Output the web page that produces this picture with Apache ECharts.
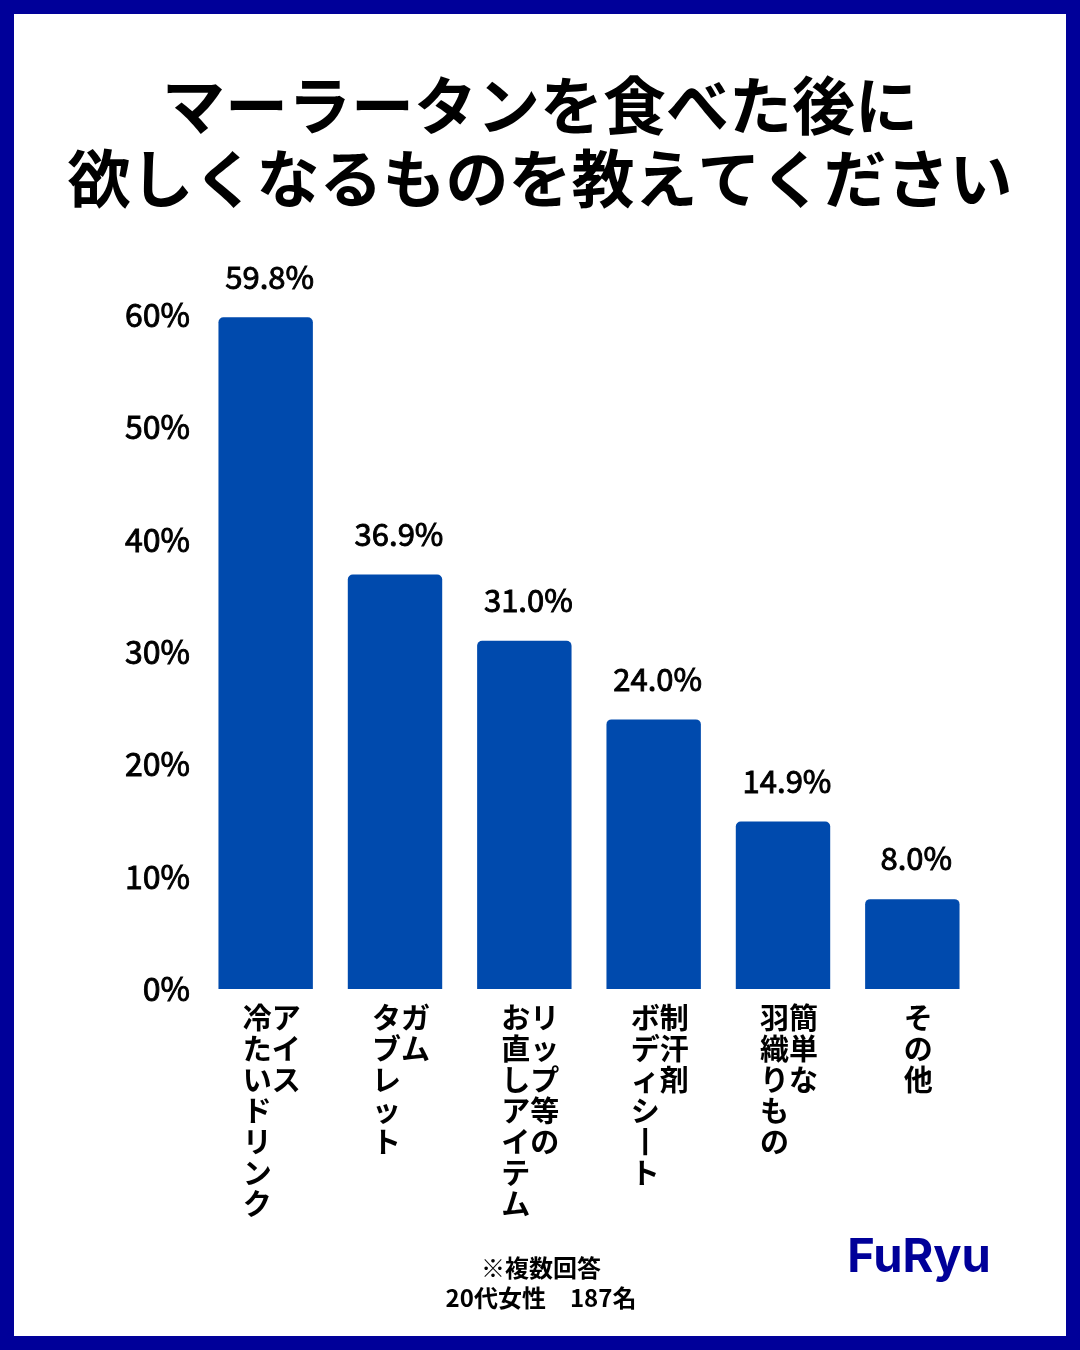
<!DOCTYPE html>
<html>
<head>
<meta charset="utf-8">
<script src="https://cdn.jsdelivr.net/npm/echarts@6/dist/echarts.min.js"></script>
<style>
  html, body { margin: 0; padding: 0; background: #fff; }
  #container { width: 1080px; height: 1350px; }
</style>
</head>
<body>
<div id="container"></div>
<script>
    // 縦書きラベル：右の列から順に
    var categories = [
        ["アイス", "冷たいドリンク"],
        ["ガム", "タブレット"],
        ["リップ等の", "お直しアイテム"],
        ["制汗剤", "ボディシート"],
        ["簡単な", "羽織りもの"],
        ["その他"]
    ];
    var values = [59.8, 36.9, 31.0, 24.0, 14.9, 8.0];
    var yTicks = [0, 10, 20, 30, 40, 50, 60];
    var titleLines = ["マーラータンを食べた後に", "欲しくなるものを教えてください"];
    var noteLines = ["※複数回答", "20代女性　187名"];

    var FONT = '"Noto Sans CJK JP", "Noto Sans", sans-serif';

    // 列を縦に並べた文字列を作る（左の列が後半）
    function verticalLabel(cols)
    {
        var vcols = [];
        var rows = 0;
        for (var i = 0; i < cols.length; i++) {
            var c = Array.from(cols[i].replace(/ー/g, '丨'));
            vcols.push(c);
            if (c.length > rows) rows = c.length;
        }
        var lines = [];
        for (var r = 0; r < rows; r++) {
            var s = '';
            for (var k = vcols.length - 1; k >= 0; k--)
                s += vcols[k][r] || '　';
            lines.push(s);
        }
        return lines.join('\n');
    }

    var myChart = echarts.init(document.getElementById('container'), null, { renderer: 'canvas' });
    myChart.setOption({
        backgroundColor: '#ffffff',
        animation: false,
        title: {
            text: titleLines.join('\n'),
            left: 'center',
            top: 64,
            textStyle: {
                fontFamily: FONT,
                fontWeight: 'bold',
                fontSize: 63,
                lineHeight: 73,
                color: '#000000'
            }
        },
        grid: { left: 201, right: 103, top: 315, bottom: 361 },
        xAxis: {
            type: 'category',
            data: categories.map(function (c, i) { return i; }),
            axisLine: { show: false },
            axisTick: { show: false },
            axisLabel: {
                margin: 13,
                interval: 0,
                verticalAlign: 'top',
                padding: [0, 0, 0, 12],
                fontFamily: FONT,
                fontWeight: 'bold',
                fontSize: 29,
                lineHeight: 31,
                color: '#000000',
                formatter: function (v, i) { return verticalLabel(categories[i]); }
            }
        },
        yAxis: {
            type: 'value',
            min: yTicks[0],
            max: yTicks[yTicks.length - 1],
            interval: 10,
            splitLine: { show: false },
            axisLine: { show: false },
            axisTick: { show: false },
            axisLabel: {
                margin: 11,
                fontFamily: FONT,
                fontWeight: 'normal',
                fontSize: 32,
                color: '#000000',
                textBorderColor: '#000000',
                textBorderWidth: 0.9,
                formatter: '{value}%'
            }
        },
        series: [{
            type: 'bar',
            data: values,
            barCategoryGap: '27%',
            itemStyle: { color: '#004AAD', borderRadius: [5, 5, 0, 0] },
            label: {
                show: true,
                position: 'top',
                distance: 25,
                padding: [0, 0, 0, 8],
                fontFamily: FONT,
                fontWeight: 'normal',
                fontSize: 31,
                color: '#000000',
                textBorderColor: '#000000',
                textBorderWidth: 0.9,
                formatter: function (p) { return p.value.toFixed(1) + '%'; }
            }
        }],
        graphic: [
            {
                type: 'rect',
                shape: { x: 7, y: 7, width: 1066, height: 1336 },
                style: { fill: 'none', stroke: '#000099', lineWidth: 14 },
                z: 100
            },
            {
                type: 'text',
                x: 541,
                y: 1283,
                style: {
                    text: noteLines.join('\n'),
                    fontFamily: FONT,
                    fontWeight: 'bold',
                    fontSize: 24,
                    lineHeight: 30,
                    fill: '#000000',
                    align: 'center',
                    verticalAlign: 'middle'
                }
            },
            {
                type: 'text',
                x: 919,
                y: 1258,
                style: {
                    text: 'FuRyu',
                    fontFamily: 'Inter, Lato, sans-serif',
                    fontWeight: 700,
                    fontSize: 47,
                    fill: '#000099',
                    align: 'center',
                    verticalAlign: 'middle'
                }
            }
        ]
    });
</script>
</body>
</html>
